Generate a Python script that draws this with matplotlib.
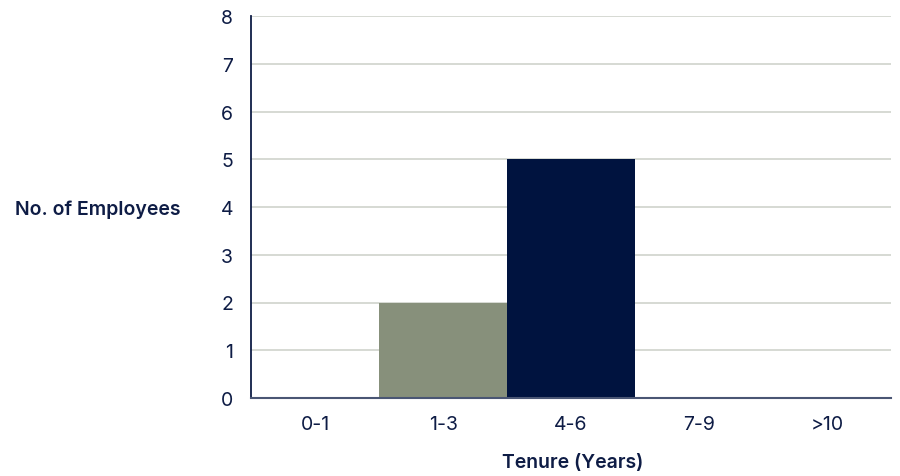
import matplotlib
matplotlib.use("Agg")
import matplotlib.pyplot as plt

categories = ["0-1", "1-3", "4-6", "7-9", ">10"]
values = [0, 2, 5, 0, 0]
bar_colors = ["#87907b", "#87907b", "#00133f", "#00133f", "#00133f"]
yticks = [0, 1, 2, 3, 4, 5, 6, 7, 8]

text_color = "#0e1c45"
plt.rcParams['font.family'] = ['Inter', 'DejaVu Sans']

fig = plt.figure(figsize=(9, 4.77), dpi=100)
ax = fig.add_axes([251/900, 1-399/477, (891-251)/900, (399-17)/477])

x = list(range(len(categories)))
ax.bar(x, values, width=1.0, color=bar_colors, zorder=2)
ax.set_xlim(-0.5, len(categories)-0.5)
ax.set_ylim(0, 8)
ax.set_yticks(yticks)
ax.set_xticks(x)
ax.set_xticklabels(categories)
ax.set_axisbelow(True)
ax.yaxis.grid(True, color="#d0d3cc", linewidth=1.2)
ax.tick_params(axis='both', length=0, labelsize=14, colors=text_color)
ax.tick_params(axis='y', pad=13)
ax.tick_params(axis='x', pad=12)
for s in ["top", "right"]:
    ax.spines[s].set_visible(False)
ax.spines["left"].set_color("#0e1c45")
ax.spines["left"].set_linewidth(1.3)
ax.spines["bottom"].set_color("#4a5674")
ax.spines["bottom"].set_linewidth(1.5)
ax.spines["left"].set_zorder(3)
ax.spines["bottom"].set_zorder(3)

fig.text(98/900, 1-210/477, "No. of Employees", ha="center", va="center",
         fontsize=14, fontweight="semibold", color=text_color)
fig.text(573/900, 1-463/477, "Tenure (Years)", ha="center", va="center",
         fontsize=14, fontweight="semibold", color=text_color)

fig.savefig("out.png", dpi=100)
